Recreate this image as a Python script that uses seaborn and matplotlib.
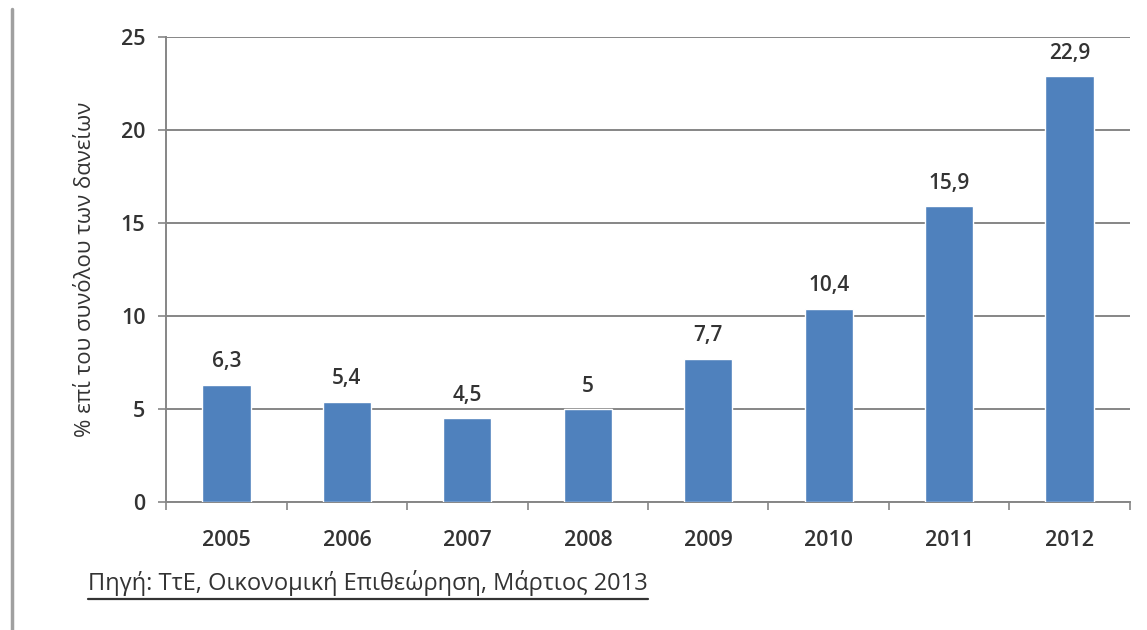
import pandas as pd
import matplotlib.pyplot as plt
import seaborn as sns
from matplotlib.lines import Line2D

years = ['2005', '2006', '2007', '2008', '2009', '2010', '2011', '2012']
shares = [6.3, 5.4, 4.5, 5.0, 7.7, 10.4, 15.9, 22.9]
value_labels = ['6,3', '5,4', '4,5', '5', '7,7', '10,4', '15,9', '22,9']
y_ticks = [0, 5, 10, 15, 20, 25]

df = pd.DataFrame({'year': years, 'share': shares})

sns.set_style('white')
plt.rcParams['font.family'] = ['Open Sans', 'DejaVu Sans']

fig = plt.figure(figsize=(11.47, 6.3), dpi=100)
ax = fig.add_axes([0.145, 0.203, 0.84, 0.738])

sns.barplot(data=df, x='year', y='share', color='#4F81BD', saturation=1,
            width=0.4, ax=ax, zorder=3)

ax.set_ylim(0, 25)
ax.set_xlim(-0.5, len(years) - 0.5)
ax.set_yticks(y_ticks)
ax.yaxis.grid(True, color='#868686', linewidth=1.4, zorder=0)
ax.set_axisbelow(True)

for s in ['top', 'right']:
    ax.spines[s].set_visible(False)
for s in ['left', 'bottom']:
    ax.spines[s].set_color('#868686')
    ax.spines[s].set_linewidth(1.4)

# x ticks sit between the categories, labels at the centres
ax.set_xticks([i - 0.5 for i in range(len(years) + 1)], minor=True)
ax.tick_params(axis='x', which='major', bottom=True, length=0, pad=20,
               labelsize=15.5, labelcolor='#333333')
ax.tick_params(axis='x', which='minor', bottom=True, length=6, width=1.2,
               color='#868686')
ax.tick_params(axis='y', left=True, length=6, width=1.2, color='#868686',
               pad=9, labelsize=15.5, labelcolor='#333333')
for lbl in ax.get_xticklabels() + ax.get_yticklabels():
    lbl.set_fontweight('semibold')

ax.set_xlabel('')
ax.set_ylabel('% επί του συνόλου των δανείων', fontsize=16,
              color='#333333', labelpad=18)

for i, (v, t) in enumerate(zip(shares, value_labels)):
    ax.annotate(t, (i, v), xytext=(0, 9), textcoords='offset points',
                ha='center', va='bottom', fontsize=15,
                fontweight='semibold', color='#333333')

# frame line on the left edge of the picture
fig.add_artist(Line2D([0.0105, 0.0105], [0.0, 0.985], color='#a0a0a0',
                      linewidth=2.5, transform=fig.transFigure))

src = fig.text(0.077, 0.063, 'Πηγή: ΤτΕ, Οικονομική Επιθεώρηση, Μάρτιος 2013',
               fontsize=17, color='#333333', ha='left', va='baseline')
fig.canvas.draw()
bb = src.get_window_extent().transformed(fig.transFigure.inverted())
fig.add_artist(Line2D([bb.x0, bb.x1], [0.05, 0.05], color='#333333',
                      linewidth=1.6, transform=fig.transFigure))

fig.savefig('out.png', dpi=100)
